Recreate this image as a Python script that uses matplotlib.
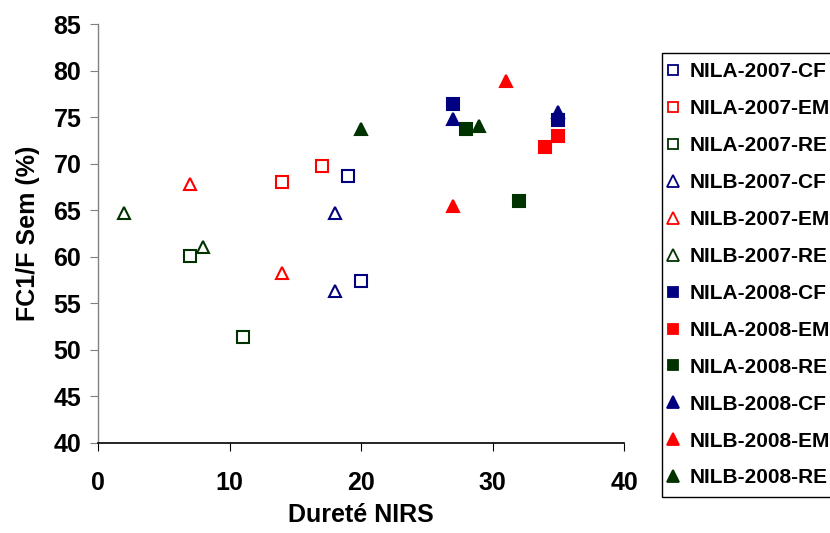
import matplotlib
matplotlib.use("Agg")
import matplotlib.pyplot as plt

plt.rcParams['font.family'] = ['Liberation Sans', 'DejaVu Sans']
plt.rcParams['font.weight'] = 'bold'

NAVY = '#000080'
RED = '#ff0000'
DKGREEN = '#003300'

series_names = [
    'NILA-2007-CF', 'NILA-2007-EM', 'NILA-2007-RE',
    'NILB-2007-CF', 'NILB-2007-EM', 'NILB-2007-RE',
    'NILA-2008-CF', 'NILA-2008-EM', 'NILA-2008-RE',
    'NILB-2008-CF', 'NILB-2008-EM', 'NILB-2008-RE',
]

# Dureté NIRS (x) and FC1/F Sem % (y) per series
nila_2007_cf_x = [19, 20];  nila_2007_cf_y = [68.7, 57.4]
nila_2007_em_x = [14, 17];  nila_2007_em_y = [68.0, 69.7]
nila_2007_re_x = [7, 11];   nila_2007_re_y = [60.1, 51.4]
nilb_2007_cf_x = [18, 18];  nilb_2007_cf_y = [64.7, 56.3]
nilb_2007_em_x = [7, 14];   nilb_2007_em_y = [67.8, 58.3]
nilb_2007_re_x = [2, 8];    nilb_2007_re_y = [64.7, 61.0]
nila_2008_cf_x = [27, 35];  nila_2008_cf_y = [76.4, 74.7]
nila_2008_em_x = [34, 35];  nila_2008_em_y = [71.8, 73.0]
nila_2008_re_x = [28, 32];  nila_2008_re_y = [73.7, 66.0]
nilb_2008_cf_x = [27, 35];  nilb_2008_cf_y = [74.8, 75.6]
nilb_2008_em_x = [27, 31];  nilb_2008_em_y = [65.4, 78.9]
nilb_2008_re_x = [20, 29];  nilb_2008_re_y = [73.7, 74.0]

xs = [nila_2007_cf_x, nila_2007_em_x, nila_2007_re_x,
      nilb_2007_cf_x, nilb_2007_em_x, nilb_2007_re_x,
      nila_2008_cf_x, nila_2008_em_x, nila_2008_re_x,
      nilb_2008_cf_x, nilb_2008_em_x, nilb_2008_re_x]
ys = [nila_2007_cf_y, nila_2007_em_y, nila_2007_re_y,
      nilb_2007_cf_y, nilb_2007_em_y, nilb_2007_re_y,
      nila_2008_cf_y, nila_2008_em_y, nila_2008_re_y,
      nilb_2008_cf_y, nilb_2008_em_y, nilb_2008_re_y]

colors = [NAVY, RED, DKGREEN] * 4
markers = ['s'] * 3 + ['^'] * 3 + ['s'] * 3 + ['^'] * 3
filled = [False] * 6 + [True] * 6

x_ticks = [0, 10, 20, 30, 40]
y_ticks = [40, 45, 50, 55, 60, 65, 70, 75, 80, 85]

fig = plt.figure(figsize=(8.3, 5.33), dpi=100)
ax = fig.add_axes([98 / 830, 90 / 533, 526 / 830, 419 / 533])

handles = []
for name, x, y, c, m, f in zip(series_names, xs, ys, colors, markers, filled):
    ms = 8 if m == 's' else 9
    h, = ax.plot(x, y, linestyle='none', marker=m, markersize=ms,
                 markerfacecolor=c if f else 'white', markeredgecolor=c,
                 markeredgewidth=1.5, label=name, clip_on=False)
    handles.append(h)

ax.set_xlim(0, 40)
ax.set_ylim(40, 85)
ax.set_xticks(x_ticks)
ax.set_yticks(y_ticks)
ax.tick_params(axis='both', direction='out', length=6, labelsize=18)
ax.tick_params(axis='x', pad=14)
ax.tick_params(axis='y', color='#808080', pad=6)
for lbl in ax.get_xticklabels() + ax.get_yticklabels():
    lbl.set_fontweight('bold')

ax.spines['top'].set_visible(False)
ax.spines['right'].set_visible(False)
ax.spines['left'].set_color('#808080')
ax.spines['left'].set_linewidth(1.0)
ax.spines['bottom'].set_color('black')
ax.spines['bottom'].set_linewidth(1.2)

ax.set_xlabel('Dureté NIRS', fontsize=18, fontweight='bold', labelpad=6)
ax.set_ylabel('FC1/F Sem (%)', fontsize=18, fontweight='bold', labelpad=10)

leg_handles = []
for h, m in zip(handles, markers):
    lh, = ax.plot([], [], linestyle='none', marker=m,
                  markersize=6.5 if m == 's' else 8,
                  markerfacecolor=h.get_markerfacecolor(),
                  markeredgecolor=h.get_markeredgecolor(),
                  markeredgewidth=1.3)
    leg_handles.append(lh)

fig.legend(leg_handles, series_names, loc='upper left',
           bbox_to_anchor=(662 / 830, 1 - 53 / 533),
           prop={'family': 'Liberation Sans', 'weight': 'bold', 'size': 15},
           frameon=True, fancybox=False, edgecolor='black', framealpha=1,
           handlelength=0.2, handletextpad=0.69, labelspacing=0.86,
           borderpad=0.45, borderaxespad=0)

fig.savefig('out.png', dpi=100)
